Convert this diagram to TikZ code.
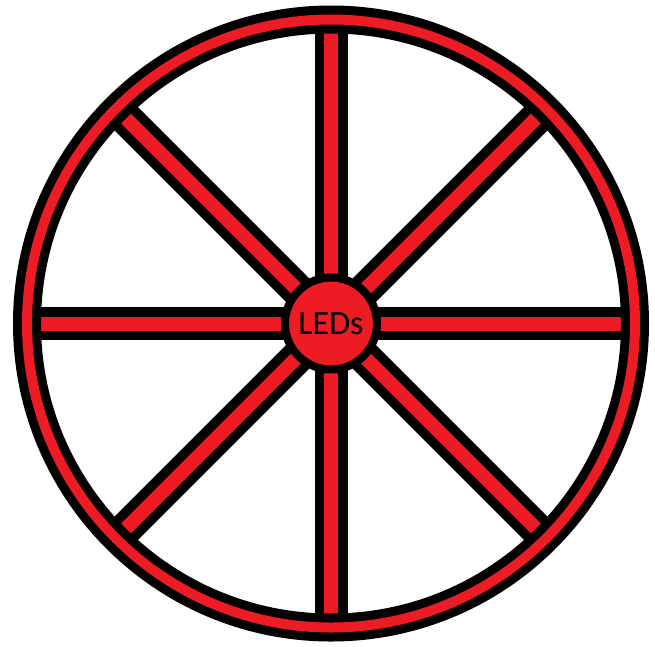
\documentclass[tikz,border=0pt]{standalone}
\usepackage{fontspec}
\setsansfont{Carlito}
\usetikzlibrary{calc}

\definecolor{ledred}{HTML}{ED1C24}

\tikzset{
  spokeout/.style={line width=33pt, black},
  spokein/.style={line width=14pt, ledred},
  hub/.style={circle, draw=black, line width=8pt, fill=ledred,
    minimum size=92pt, inner sep=0pt, font=\sffamily\fontsize{34}{40}\selectfont}
}

\begin{document}
\begin{tikzpicture}[x=1pt, y=-1pt]
  \useasboundingbox (0,0) rectangle (655,646);

  % Rim points
  \coordinate (c) at (331,323.5);
  \foreach \a in {0,45,...,315}
    \coordinate (rim\a) at ($(c)+(\a:304)$);

  % Spokes
  \foreach \a in {0,45,...,315}
    \draw[spokeout] (c) -- (rim\a);
  \foreach \a in {0,45,...,315}
    \draw[spokein] (c) -- (rim\a);

  % Rim
  \draw[black, line width=28pt] (c) circle (304);
  \draw[ledred, line width=10pt] (c) circle (304);

  % Hub
  \node[hub] (leds) at (c) {LEDs};

\end{tikzpicture}
\end{document}
